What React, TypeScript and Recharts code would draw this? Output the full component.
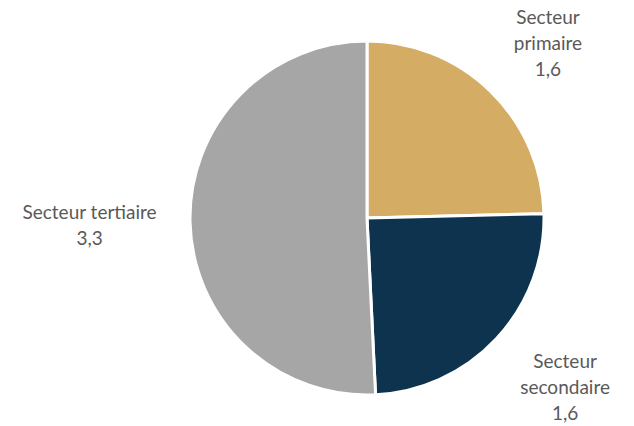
import { PieChart, Pie, Cell } from "recharts";

const SECTORS = ["Secteur primaire", "Secteur secondaire", "Secteur tertiaire"];
const LABEL_LINES = [["Secteur", "primaire"], ["Secteur", "secondaire"], ["Secteur tertiaire"]];
const VALUES = [1.6, 1.6, 3.3];
const COLORS = ["#D4AC64", "#0E334E", "#A6A6A6"];

const data = SECTORS.map((name, i) => ({ name, value: VALUES[i], lines: LABEL_LINES[i] }));

const FONT_SIZE = 19;
const LINE_H = 26;
const RAD = Math.PI / 180;

const clamp = (v: number) => Math.max(-1, Math.min(1, v));

// label block sits just outside the slice, its nearest corner facing the pie
function renderLabel(props: any) {
  const { cx, cy, midAngle, outerRadius, index } = props;
  const entry = data[index];
  const lines = [...entry.lines, String(entry.value).replace(".", ",")];
  const cos = Math.cos(-midAngle * RAD);
  const sin = Math.sin(-midAngle * RAD);
  const px = cx + (outerRadius + 24 + 11 * Math.max(cos, 0)) * cos;
  const py = cy + (outerRadius + 15) * sin;
  const w = Math.max(...lines.map((l) => l.length)) * 18 * 0.5;
  const h = lines.length * LINE_H;
  const bx = px + (w / 2) * clamp(cos * 1.4);
  const by = py + (h / 2) * clamp(sin * 1.4);
  const top = by - h / 2;
  return (
    <text
      textAnchor="middle"
      fill="#595959"
      fontSize={FONT_SIZE}
      fontFamily="Lato, 'Open Sans', sans-serif"
    >
      {lines.map((l, i) => (
        <tspan key={i} x={bx} y={top + LINE_H * i + 21}>
          {l}
        </tspan>
      ))}
    </text>
  );
}

export default function App() {
  return (
    <div style={{ position: "absolute", left: 0, top: 0, background: "#fff" }}>
      <PieChart width={634} height={426} margin={{ top: 0, right: 0, bottom: 0, left: 0 }}>
        <Pie
          data={data}
          dataKey="value"
          cx={367}
          cy={218}
          outerRadius={177}
          startAngle={90}
          endAngle={-270}
          stroke="#fff"
          strokeWidth={3}
          label={renderLabel}
          labelLine={false}
          isAnimationActive={false}
        >
          {data.map((entry, index) => (
            <Cell key={`cell-${index}`} fill={COLORS[index]} />
          ))}
        </Pie>
      </PieChart>
    </div>
  );
}
